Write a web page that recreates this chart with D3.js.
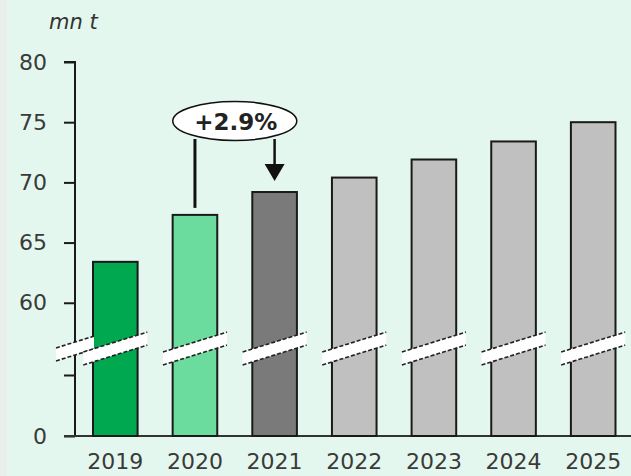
<!DOCTYPE html>
<html>
<head>
<meta charset="utf-8">
<script src="https://cdn.jsdelivr.net/npm/d3@7"></script>
<style>
  html, body { margin: 0; padding: 0; background: #e4f7ee; }
  svg { display: block; }
</style>
</head>
<body>
<svg id="chart" width="631" height="476"></svg>
<script>
// ---- data ----
const years = ["2019", "2020", "2021", "2022", "2023", "2024", "2025"];
const values = [63.4, 67.3, 69.2, 70.4, 71.9, 73.4, 75.0];
const barColors = ["#00a84f", "#6cdc9e", "#7a7a7a", "#c0c0c0", "#c0c0c0", "#c0c0c0", "#c0c0c0"];
const tickValues = [0, 54, 60, 65, 70, 75, 80];
const tickLabels = ["0", "", "60", "65", "70", "75", "80"];
const unitLabel = "mn t";
const growthLabel = "+2.9%";
const growthFrom = "2020";
const growthTo = "2021";
const breakValue = 56.2;

// ---- layout ----
const svg = d3.select("#chart");
svg.append("rect").attr("width", 631).attr("height", 476).attr("fill", "#e4f7ee");
svg.append("rect").attr("width", 7).attr("height", 476).attr("fill", "#e9f0eb");

const axisX = 75;
const y = d3.scaleLinear().domain([0, 54, 80]).range([436, 375, 62]);
const x = d3.scaleBand().domain(years).range([75, 633.5]).paddingInner(0.44).paddingOuter(0.226);

const font = "'DejaVu Sans', Verdana, sans-serif";

// unit label
svg.append("text").attr("x", 49).attr("y", 29)
  .attr("font-family", font).attr("font-style", "italic")
  .attr("font-size", 21).attr("fill", "#333").text(unitLabel);

// y axis
const yAxis = d3.axisLeft(y).tickValues(tickValues)
  .tickFormat((d, i) => tickLabels[i]).tickSize(11).tickPadding(17);
const gy = svg.append("g").attr("transform", `translate(${axisX},0)`).call(yAxis);
gy.select(".domain").attr("d", `M-11,${y(80)}H0V${y(0)}`).attr("stroke", "#1a1a1a").attr("stroke-width", 2);
gy.selectAll(".tick line").attr("stroke", "#1a1a1a").attr("stroke-width", 2);
gy.selectAll(".tick text").attr("font-family", font).attr("font-size", 22).attr("fill", "#3a3a3a");

// x axis
const xAxis = d3.axisBottom(x).tickSize(0).tickPadding(17);
const gx = svg.append("g").attr("transform", `translate(0,${y(0)})`).call(xAxis);
gx.select(".domain").attr("d", `M64,0H631`).attr("stroke", "#333").attr("stroke-width", 2);
gx.selectAll(".tick text").attr("font-family", font).attr("font-size", 22).attr("fill", "#3a3a3a");

// bars
svg.append("g").selectAll("rect").data(years).join("rect")
  .attr("x", d => x(d)).attr("y", (d, i) => y(values[i]))
  .attr("width", x.bandwidth()).attr("height", (d, i) => y(0) - y(values[i]))
  .attr("fill", (d, i) => barColors[i]).attr("stroke", "#1a1a1a").attr("stroke-width", 2);

// break marks
function drawBreak(cx, halfW) {
  const cy = y(breakValue);
  const slope = 0.31, th = 6.5;
  const x0 = cx - halfW, x1 = cx + halfW;
  const y0 = cy + slope * halfW, y1 = cy - slope * halfW;
  const g = svg.append("g");
  g.append("path").attr("d", `M${x0},${y0 - th}L${x1},${y1 - th}L${x1},${y1 + th}L${x0},${y0 + th}Z`)
    .attr("fill", "#fff");
  [-th, th].forEach(o => {
    g.append("line").attr("x1", x0).attr("y1", y0 + o).attr("x2", x1).attr("y2", y1 + o)
      .attr("stroke", "#222").attr("stroke-width", 1.6).attr("stroke-dasharray", "4,2");
  });
}
drawBreak(axisX, 19);
years.forEach(d => drawBreak(x(d) + x.bandwidth() / 2, 32));

// growth annotation
const xa = x(growthFrom) + x.bandwidth() / 2;
const xb = x(growthTo) + x.bandwidth() / 2;
const ia = years.indexOf(growthFrom), ib = years.indexOf(growthTo);
const ecx = (xa + xb) / 2, ecy = 121;
svg.append("line").attr("x1", xa).attr("y1", ecy + 18).attr("x2", xa).attr("y2", y(values[ia]) - 7)
  .attr("stroke", "#111").attr("stroke-width", 3);
svg.append("line").attr("x1", xb).attr("y1", ecy + 18).attr("x2", xb).attr("y2", y(values[ib]) - 28)
  .attr("stroke", "#111").attr("stroke-width", 2.5);
const tipY = y(values[ib]) - 11;
svg.append("path").attr("d", `M${xb - 10},${tipY - 17}L${xb + 10},${tipY - 17}L${xb},${tipY}Z`).attr("fill", "#111");
svg.append("ellipse").attr("cx", ecx).attr("cy", ecy).attr("rx", 62).attr("ry", 19.5)
  .attr("fill", "#fff").attr("stroke", "#111").attr("stroke-width", 1.5);
svg.append("text").attr("x", ecx + 1).attr("y", ecy + 8.5).attr("text-anchor", "middle")
  .attr("font-family", font).attr("font-weight", "bold").attr("font-size", 23).attr("fill", "#222")
  .text(growthLabel);
</script>
</body>
</html>
